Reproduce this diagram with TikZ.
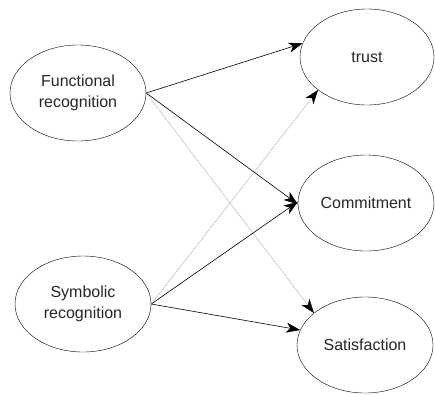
\documentclass[tikz,border=0pt]{standalone}
\usepackage{fontspec}
\setmainfont{Liberation Sans}
\usetikzlibrary{shapes.geometric, arrows.meta}

\tikzset{
	factor/.style={ellipse, draw, thin, minimum width=136pt, minimum height=96pt, inner sep=0pt, align=center, text=black!85, font=\fontsize{16}{21}\selectfont},
	path/.style={-{Stealth[length=14pt, width=10pt, inset=4pt]}, semithick, black},
	weakpath/.style={-{Stealth[length=14pt, width=10pt, inset=4pt, black]}, very thin, black!45}
}

\begin{document}
\begin{tikzpicture}[x=1pt, y=-1pt]
	\useasboundingbox (0,0) rectangle (435,394);
	\node [factor] (func) at (78,93) {Functional\\recognition};
	\node [factor] (symb) at (83,304) {Symbolic\\recognition};
	\node [factor, minimum width=134pt] (trust) at (367,57) {trust};
	\node [factor] (commit) at (366,203) {Commitment};
	\node [factor] (satis) at (365,345) {Satisfaction};
	\foreach \from/\to in {func/trust.168, func/commit.181, symb/commit.179, symb/satis.167} {
		\draw [path] (\from.east) -- (\to);
	}
	\foreach \from/\to in {symb/trust.214, func/satis.148} {
		\draw [weakpath] (\from.east) -- (\to);
	}
\end{tikzpicture}
\end{document}
